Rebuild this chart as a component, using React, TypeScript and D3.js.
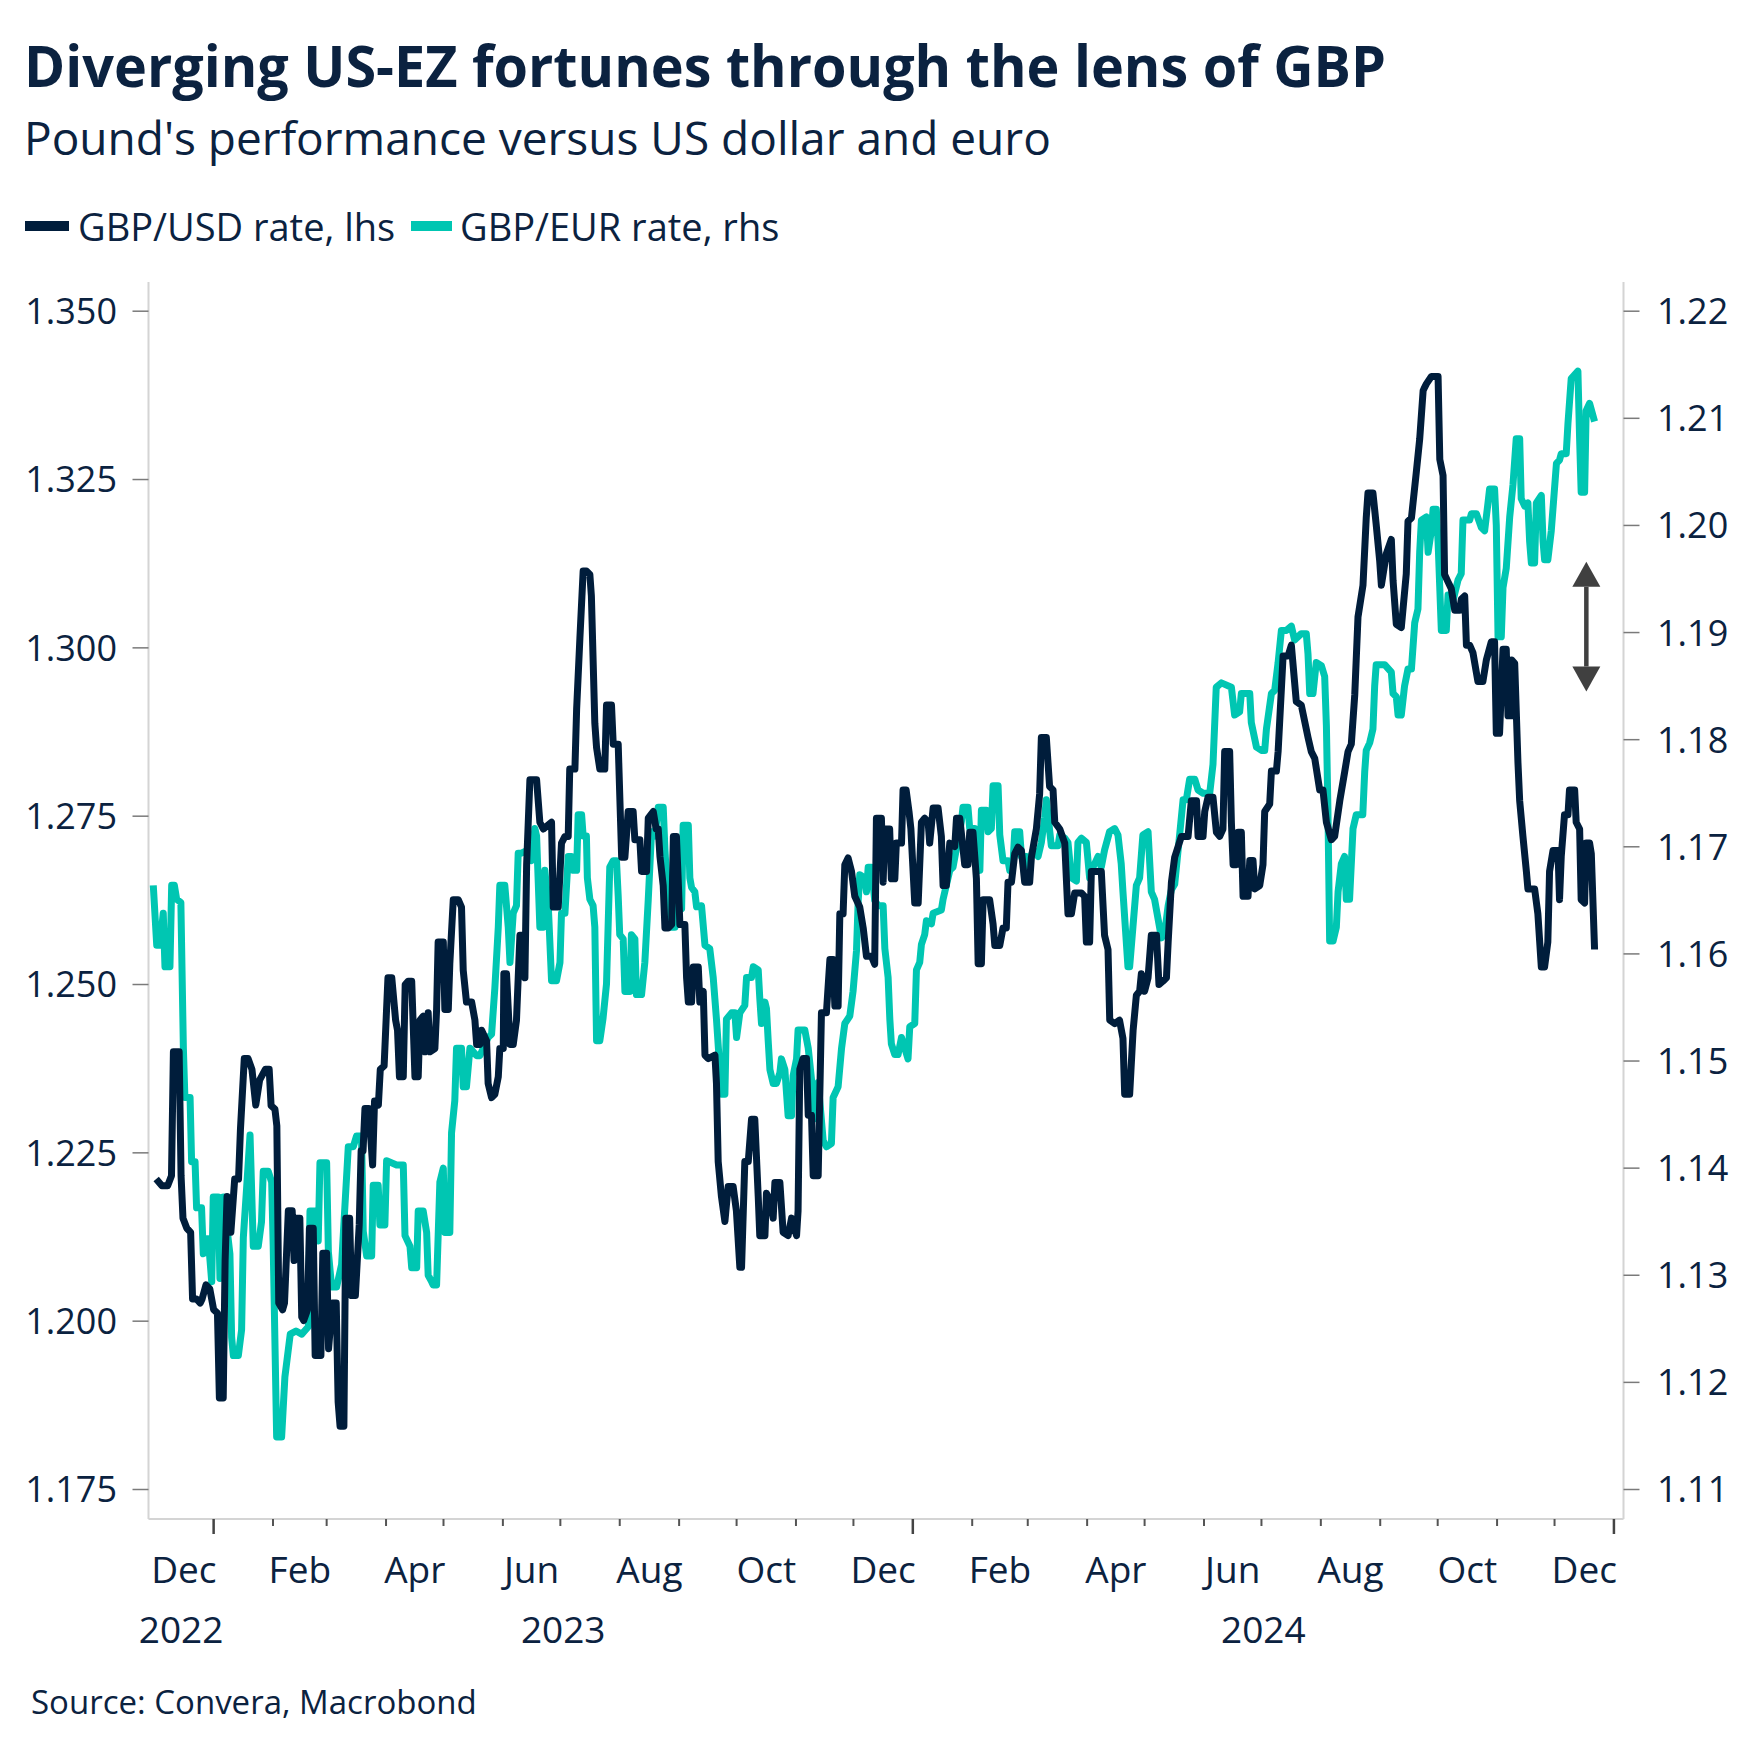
import React from 'react';
import * as d3 from 'd3';

// ---------- DATA (days counted from 2022-11-28) ----------
const baseDateUTC = Date.UTC(2022, 10, 28);

const usdDays = [4,7,10,12,13,16,17,18,20,22,23,25,27,28,30,32,34,36,37,39,40,41,43,45,47,48,50,52,54,56,58,61,63,64,66,67,68,70,71,73,75,76,77,79,80,81,83,84,86,87,90,91,93,94,96,98,99,100,102,103,105,106,108,110,111,112,113,115,117,118,120,121,123,125,127,129,130,131,133,134,
135.6,137.4,139.1,140.8,141.7,143.4,144.3,146.0,146.9,149.5,150.4,151.2,153.9,154.7,156.5,157.3,159.1,161.7,163.4,164.3,166.0,168.7,170.4,171.3,173.0,173.9,176.5,177.3,179.1,180.8,182.6,183.4,185.2,185.5,186.9,188.7,190.4,192.1,193.0,193.9,195.6,196.5,197.4,199.1,202.6,204.3,206.1,210.4,211.3,213.9,215.6,217.4,219.1,219.9,222.6,223.5,225.2,226.9,228.6,230.4,231.2,233.0,233.9,235.6,238.2,239.1,241.7,242.6,245.2,247.0,248.7,250.4,253.0,253.9,256.5,257.4,260.0,260.9,263.5,
265,266.1,267.0,268.7,269.6,271.3,273.1,274.0,275.6,276.5,277.4,280.0,280.9,281.8,283.5,284.4,287.0,287.8,289.6,290.5,292.2,295.7,296.5,297.4,299.1,300.9,302.6,305.2,306.9,308.7,309.6,311.3,313.1,314.8,316.5,318.3,319.1,321.8,322.6,324.4,326.1,327.0,329.6,331.3,333.9,335.7,338.3,339.1,340.0,341.7,343.5,344.4,346.1,347.0,349.6,351.3,353.9,355.7,357.4,358.3,360.0,360.9,362.6,363.5,365.2,367.0,368.7,371.3,373.1,374.8,377.4,379.1,380.0,382.6,383.5,384.4,386.9,387.8,389.6,390.4,393.1,393.9,
395.5,397,398,400.0,401.8,403.5,405.2,407.0,407.8,409.6,412.2,413.9,414.8,416.5,418.3,420.9,421.8,423.5,426.1,427.8,428.7,430.4,432.2,433.1,434.8,435.7,439.1,440.9,441.8,444.4,446.1,447.8,448.7,450.5,452.2,453.9,455.7,457.4,460.0,460.9,463.5,465.2,466.1,468.7,470.4,472.2,473.1,475.7,478.3,480.0,481.8,483.5,487.0,488.7,489.6,491.3,492.2,497.4,499.1,500.9,501.8,504.4,506.9,508.7,509.6,512.2,514.0,515.7,517.4,518.3,520.0,521.8,523.5,525.2,
526.2,527.5,529.6,531.4,532.3,534.0,535.7,537.5,539.2,542.7,544.4,547.1,547.9,550.5,551.4,553.1,555.7,557.5,559.2,560.9,561.8,564.4,565.3,566.2,567.9,568.8,570.5,571.4,574.0,574.9,576.6,577.5,580.1,581.8,582.7,585.3,586.2,588.8,589.7,592.3,594.9,596.6,599.2,601.8,605.3,607.0,608.8,611.4,613.1,614.9,617.5,619.2,621.9,624.4,626.2,627.9,629.7,631.4,634.0,635.7,636.6,639.2,640.9,642.7,643.6,646.2,648.8,649.7,651.4,654.0,
656.6,657.5,659.3,661.8,663.6,665.4,666.2,667.1,669.7,673.2,674.1,675.8,676.6,678.4,680.1,681.9,684.5,685.3,687.1,688.0,689.7,691.4,694.0,696.6,698.4,701.0,702.7,703.6,705.3,707.1,708.8,709.7,711.4,711.6,713.2,714.9,715.8,717.5,719.3,720.1,723.6,725.3,727.1,728.8,730.5,731.4,733.2,735.8,736.6,737.5,739.2,741.0,741.8,744.5,745.3,747.1,747.9,749.7,750.5,752.3,753.2,754.9];

const usdRates = [1.2211,1.2201,1.2201,1.2216,1.2400,1.2400,1.2216,1.2153,1.2138,1.2132,1.2033,1.2033,1.2027,1.2033,1.2054,1.2048,1.2017,1.2012,1.1886,1.1886,1.2090,1.2185,1.2132,1.2211,1.2211,1.2285,1.2390,1.2390,1.2374,1.2321,1.2358,1.2374,1.2374,1.2320,1.2315,1.2290,1.2027,1.2017,1.2027,1.2164,1.2164,1.2090,1.2153,1.2153,1.2006,1.2001,1.2017,1.2138,1.2138,1.1949,1.1949,1.2101,1.2101,1.1959,1.2027,1.2027,1.1880,1.1844,1.1844,1.2153,1.2153,1.2038,1.2038,1.2143,1.2253,1.2253,1.2316,1.2316,1.2232,1.2327,1.2321,1.2374,1.2379,1.2510,1.2510,1.2447,1.2432,1.2363,1.2363,1.2500,
1.2505,1.2505,1.2363,1.2363,1.2447,1.2453,1.2400,1.2458,1.2400,1.2405,1.2463,1.2563,1.2563,1.2463,1.2463,1.2531,1.2626,1.2626,1.2615,1.2521,1.2474,1.2474,1.2447,1.2411,1.2411,1.2432,1.2416,1.2353,1.2332,1.2337,1.2363,1.2405,1.2405,1.2516,1.2516,1.2411,1.2411,1.2447,1.2510,1.2573,1.2573,1.2510,1.2678,1.2804,1.2804,1.2741,1.2731,1.2741,1.2615,1.2615,1.2710,1.2720,1.2720,1.2820,1.2820,1.2909,1.3014,1.3114,1.3114,1.3109,1.3077,1.2888,1.2852,1.2820,1.2820,1.2915,1.2915,1.2857,1.2857,1.2689,1.2689,1.2757,1.2757,1.2715,1.2715,1.2668,1.2668,1.2747,1.2757,
1.2731,1.2731,1.2690,1.2647,1.2584,1.2584,1.2589,1.2720,1.2720,1.2657,1.2589,1.2589,1.2510,1.2474,1.2474,1.2526,1.2526,1.2474,1.2490,1.2395,1.2390,1.2395,1.2353,1.2237,1.2185,1.2148,1.2200,1.2200,1.2164,1.2080,1.2080,1.2237,1.2237,1.2300,1.2300,1.2185,1.2127,1.2127,1.2190,1.2180,1.2153,1.2206,1.2206,1.2132,1.2127,1.2153,1.2127,1.2164,1.2374,1.2390,1.2390,1.2306,1.2306,1.2216,1.2216,1.2458,1.2458,1.2537,1.2537,1.2468,1.2468,1.2605,1.2605,1.2678,1.2688,1.2668,1.2631,1.2615,1.2584,1.2542,1.2542,1.2530,1.2747,1.2747,1.2652,1.2731,1.2731,1.2657,1.2657,1.2710,1.2710,1.2789,
1.2789,1.2757,1.2731,1.2621,1.2621,1.2741,1.2747,1.2741,1.2710,1.2762,1.2762,1.2720,1.2647,1.2647,1.2710,1.2705,1.2747,1.2747,1.2678,1.2678,1.2726,1.2726,1.2657,1.2531,1.2531,1.2626,1.2626,1.2590,1.2558,1.2558,1.2584,1.2584,1.2652,1.2652,1.2694,1.2704,1.2699,1.2652,1.2652,1.2689,1.2731,1.2783,1.2867,1.2867,1.2794,1.2789,1.2741,1.2731,1.2710,1.2605,1.2605,1.2636,1.2636,1.2631,1.2563,1.2563,1.2668,1.2668,1.2573,1.2552,1.2447,1.2442,1.2447,1.2420,1.2337,1.2337,1.2432,1.2484,1.2490,1.2516,1.2490,1.2510,1.2573,1.2573,
1.2573,1.2500,1.2505,1.2510,1.2563,1.2652,1.2689,1.2705,1.2720,1.2720,1.2773,1.2773,1.2720,1.2720,1.2757,1.2778,1.2778,1.2726,1.2720,1.2731,1.2846,1.2846,1.2741,1.2678,1.2678,1.2726,1.2726,1.2631,1.2631,1.2684,1.2684,1.2642,1.2647,1.2678,1.2757,1.2768,1.2817,1.2817,1.2846,1.2988,1.2988,1.3004,1.2920,1.2915,1.2867,1.2846,1.2836,1.2789,1.2789,1.2741,1.2715,1.2720,1.2773,1.2815,1.2846,1.2857,1.2930,1.3046,1.3093,1.3193,1.3230,1.3230,1.3183,1.3130,1.3093,1.3140,1.3161,1.3100,1.3035,1.3030,
1.3110,1.3188,1.3193,1.3260,1.3310,1.3382,1.3387,1.3392,1.3403,1.3403,1.3280,1.3256,1.3109,1.3098,1.3088,1.3056,1.3056,1.3072,1.3077,1.3004,1.3004,1.2993,1.2950,1.2950,1.2982,1.3009,1.3009,1.2873,1.2873,1.2998,1.2998,1.2899,1.2899,1.2982,1.2977,1.2830,1.2773,1.2720,1.2668,1.2642,1.2642,1.2605,1.2526,1.2526,1.2563,1.2668,1.2699,1.2699,1.2626,1.2690,1.2752,1.2752,1.2789,1.2789,1.2741,1.2731,1.2626,1.2621,1.2710,1.2710,1.2694,1.2552];

const eurDays = [2.5,4.3,6.0,7.7,8.6,11.2,12.1,13.5,14.7,16.9,18.2,19.0,21.7,22.5,24.3,25.1,27.7,28.6,30.4,31.2,32.1,33.0,33.8,36.4,37.3,39.1,42.5,43.4,44.3,46.9,48.6,49.5,51.2,53.0,54.7,57.3,59.0,59.9,62.5,64.3,65.1,66.9,69.5,71.2,74,77,80,83.4,84.3,86.9,88.6,89.5,93.0,93.9,95.6,98.2,100.8,104.3,106.9,108.6,111.2,112.1,113.9,116.5,117.3,119.9,120.8,123.4,124.3,129.5,133.0,133.9,
136.5,137.4,140.0,140.8,143.4,145.2,146.0,147.8,148.6,150.4,152.1,153.9,154.7,157.3,158.2,159.9,160.8,163.4,164.3,166.0,167.8,171.3,173.0,177.3,179.1,180.8,182.6,183.4,186.0,187.8,188.7,190.4,192.1,193.0,194.7,198.2,199.9,201.7,202.6,204.3,206.1,206.9,208.7,210.4,213.0,214.8,215.6,217.4,219.1,220.8,221.7,223.5,224.3,226.1,226.9,228.6,229.1,230.4,232.1,233.0,233.9,235.6,237.3,239.1,240.8,242.6,244.3,245.2,246.0,247.8,248.7,251.3,252.1,253.9,254.7,257.4,259.1,260.9,262.6,264.4,
266.1,268.7,269.6,271.3,272.2,274.8,275.7,278.3,279.1,281.8,282.6,283.5,285.2,286.1,288.7,290.5,293.0,294.8,296.5,299.1,300.9,301.7,304.4,306.1,307.0,308.7,311.3,312.2,314.8,315.7,318.3,319.1,320.0,321.8,322.6,323.5,324.4,326.1,327.8,329.6,330.4,332.2,333.9,335.7,336.5,338.3,339.1,342.6,344.4,346.1,347.8,349.6,352.2,353.9,356.5,357.4,360.0,361.8,363.5,366.1,367.8,369.6,370.5,371.3,373.9,374.8,375.7,377.4,379.1,380.9,383.5,384.4,386.1,387.0,387.8,389.6,391.3,393.1,394.8,
396.5,397.4,400.0,400.9,402.6,403.5,405.2,406.1,408.7,409.6,413.9,414.8,418.3,420.0,424.4,425.2,427.8,428.7,431.3,434.0,434.8,437.4,438.3,440.0,440.9,443.5,444.4,446.1,448.7,449.6,451.3,452.2,454.8,455.7,458.3,459.1,461.8,464.4,466.1,467.8,468.7,471.3,474.8,475.7,478.3,480.0,481.8,484.4,485.2,487.0,489.6,491.3,493.1,495.7,497.4,499.1,501.7,504.4,506.1,507.8,508.7,511.3,512.2,513.9,515.7,517.4,519.1,521.8,523.5,525.2,
528.8,530.5,532.3,534.0,535.7,537.5,540.1,541.8,543.5,546.2,547.9,550.5,554.0,555.7,557.4,560.1,565.3,567.0,569.6,570.5,572.3,574.9,575.7,578.4,581.0,582.7,583.6,586.2,587.9,589.7,591.4,594.0,596.6,598.3,601.8,604.4,605.3,606.2,607.9,609.6,612.3,614.0,614.9,615.7,616.6,618.4,620.1,621.0,622.7,624.4,625.3,627.0,628.8,630.5,633.9,634.9,635.7,637.5,639.2,640.1,640.9,645.3,648.8,649.7,651.4,652.3,654.0,655.7,
657.5,659.3,661.0,662.7,663.6,664.5,667.1,668.0,669.7,670.6,672.3,673.2,674.9,677.5,678.4,680.9,683.6,685.3,686.2,689.7,690.6,693.2,695.8,697.5,699.2,700.1,702.7,703.6,704.5,706.2,707.1,708.8,710.6,712.3,714.0,715.8,716.6,718.4,720.1,721.0,721.9,723.6,724.5,727.1,728.0,728.8,730.5,732.3,735.0,736.6,737.5,740.1,741.0,742.7,746.2,747.1,747.9,749.7,750.5,752.3,754.9];

const eurRates = [1.1664,1.1608,1.1608,1.1638,1.1588,1.1588,1.1664,1.1664,1.1651,1.1648,1.1512,1.1466,1.1466,1.1406,1.1406,1.1363,1.1363,1.1320,1.1334,1.1334,1.1314,1.1294,1.1373,1.1373,1.1297,1.1373,1.1320,1.1242,1.1225,1.1225,1.1249,1.1335,1.1381,1.1431,1.1327,1.1327,1.1350,1.1397,1.1397,1.1387,1.1327,1.1149,1.1149,1.1205,1.1245,1.1248,1.1245,1.1252,1.1360,1.1360,1.1332,1.1405,1.1405,1.1322,1.1289,1.1289,1.1310,1.1420,1.1420,1.1430,1.1430,1.1341,1.1318,1.1318,1.1384,1.1384,1.1347,1.1347,1.1407,1.1403,1.1403,1.1337,
1.1327,1.1307,1.1307,1.1360,1.1360,1.1340,1.1300,1.1294,1.1291,1.1291,1.1387,1.1400,1.1340,1.1340,1.1433,1.1463,1.1512,1.1512,1.1476,1.1476,1.1512,1.1505,1.1505,1.1522,1.1525,1.1568,1.1625,1.1664,1.1664,1.1625,1.1592,1.1638,1.1645,1.1694,1.1694,1.1697,1.1687,1.1717,1.1710,1.1625,1.1625,1.1678,1.1645,1.1575,1.1575,1.1592,1.1638,1.1638,1.1691,1.1691,1.1678,1.1678,1.1730,1.1730,1.1710,1.1710,1.1671,1.1651,1.1645,1.1625,1.1519,1.1519,1.1540,1.1572,1.1681,1.1687,1.1687,1.1654,1.1618,1.1614,1.1565,1.1565,1.1618,1.1614,1.1562,1.1562,1.1592,1.1651,1.1714,1.1710,
1.1737,1.1737,1.1697,1.1645,1.1625,1.1625,1.1645,1.1642,1.1720,1.1720,1.1671,1.1662,1.1658,1.1644,1.1645,1.1608,1.1605,1.1578,1.1539,1.1469,1.1469,1.1539,1.1545,1.1545,1.1522,1.1545,1.1552,1.1578,1.1578,1.1588,1.1585,1.1559,1.1535,1.1555,1.1549,1.1519,1.1492,1.1479,1.1479,1.1489,1.1502,1.1492,1.1449,1.1449,1.1486,1.1502,1.1529,1.1529,1.1512,1.1483,1.1446,1.1480,1.1426,1.1420,1.1423,1.1466,1.1476,1.1512,1.1535,1.1542,1.1565,1.1603,1.1650,1.1674,1.1671,1.1658,1.1681,1.1681,1.1650,1.1645,1.1645,1.1605,1.1578,1.1539,1.1516,1.1506,1.1506,1.1522,1.1512,
1.1502,1.1532,1.1535,1.1585,1.1592,1.1609,1.1618,1.1631,1.1628,1.1638,1.1641,1.1651,1.1678,1.1681,1.1724,1.1737,1.1737,1.1717,1.1717,1.1678,1.1734,1.1734,1.1714,1.1717,1.1757,1.1757,1.1711,1.1687,1.1687,1.1678,1.1684,1.1714,1.1714,1.1691,1.1691,1.1681,1.1697,1.1691,1.1704,1.1727,1.1744,1.1701,1.1701,1.1711,1.1708,1.1704,1.1671,1.1668,1.1704,1.1708,1.1704,1.1671,1.1681,1.1691,1.1681,1.1697,1.1714,1.1717,1.1711,1.1684,1.1658,1.1588,1.1588,1.1625,1.1664,1.1671,1.1711,1.1714,1.1658,1.1651,
1.1615,1.1620,1.1645,1.1660,1.1665,1.1697,1.1744,1.1744,1.1763,1.1763,1.1753,1.1750,1.1750,1.1777,1.1849,1.1853,1.1849,1.1823,1.1826,1.1843,1.1843,1.1843,1.1816,1.1793,1.1790,1.1790,1.1810,1.1843,1.1846,1.1872,1.1902,1.1902,1.1906,1.1893,1.1899,1.1899,1.1880,1.1843,1.1843,1.1872,1.1869,1.1859,1.1813,1.1735,1.1612,1.1612,1.1625,1.1658,1.1684,1.1691,1.1651,1.1651,1.1717,1.1730,1.1730,1.1770,1.1790,1.1797,1.1810,1.1850,1.1870,1.1870,1.1863,1.1843,1.1840,1.1823,1.1823,1.1850,
1.1866,1.1866,1.1909,1.1922,1.1975,1.2005,1.2008,1.1975,1.1995,1.2015,1.2015,1.1985,1.1902,1.1902,1.1935,1.1929,1.1949,1.1955,1.2005,1.2005,1.2011,1.2011,1.1998,1.1995,1.2020,1.2034,1.2034,1.2000,1.1896,1.1896,1.1942,1.1960,1.2008,1.2038,1.2081,1.2081,1.2025,1.2018,1.2021,1.1985,1.1965,1.1965,1.2021,1.2028,1.1985,1.1968,1.1968,1.1995,1.2058,1.2061,1.2067,1.2067,1.2095,1.2137,1.2144,1.2080,1.2031,1.2031,1.2107,1.2114,1.2097];

const leftTicks = [1.175, 1.2, 1.225, 1.25, 1.275, 1.3, 1.325, 1.35];
const rightTicks = [1.11, 1.12, 1.13, 1.14, 1.15, 1.16, 1.17, 1.18, 1.19, 1.2, 1.21, 1.22];
const monthNames = ['Jan', 'Feb', 'Mar', 'Apr', 'May', 'Jun', 'Jul', 'Aug', 'Sep', 'Oct', 'Nov', 'Dec'];
const yearLabels = [2022, 2023, 2024];
const seriesNames = ['GBP/USD rate, lhs', 'GBP/EUR rate, rhs'];
const arrowDay = 750.6;
const arrowRange = [1.1966, 1.1845];

const TITLE = 'Diverging US-EZ fortunes through the lens of GBP';
const SUBTITLE = "Pound's performance versus US dollar and euro";
const SOURCE = 'Source: Convera, Macrobond';

// ---------- STYLE ----------
const W = 1752, H = 1756;
const NAVY = '#001d3b';
const TEAL = '#00c6b2';
const TEXT = '#0b2240';
const FONT = "'Open Sans', 'Noto Sans', sans-serif";

const dayToDate = (d: number) => new Date(baseDateUTC + d * 86400000);

export default function App() {
  const plotLeft = 148.5, plotRight = 1623.5, frameTop = 282, frameBottom = 1519;
  const x = d3.scaleUtc().domain([new Date(baseDateUTC), new Date(Date.UTC(2025, 0, 6))]).range([plotLeft, plotRight]);
  const yL = d3.scaleLinear().domain([1.175, 1.35]).range([1489.5, 311.2]);
  const yR = d3.scaleLinear().domain([1.11, 1.22]).range([1489.5, 311.2]);

  const usd = usdDays.map((d, i) => ({ date: dayToDate(d), v: usdRates[i] }));
  const eur = eurDays.map((d, i) => ({ date: dayToDate(d), v: eurRates[i] }));

  const lineL = d3.line<{ date: Date; v: number }>().x(d => x(d.date)).y(d => yL(d.v));
  const lineR = d3.line<{ date: Date; v: number }>().x(d => x(d.date)).y(d => yR(d.v));

  const months = d3.utcMonth.range(new Date(Date.UTC(2023, 0, 1)), new Date(Date.UTC(2025, 0, 2)));
  const labelMonthList = [new Date(Date.UTC(2022, 11, 1)), ...d3.utcMonth.range(new Date(Date.UTC(2023, 1, 1)), new Date(Date.UTC(2024, 11, 2)), 2)];

  const yearCenter = (yr: number) => {
    const s = Math.max(x(new Date(Date.UTC(yr, 0, 1))), plotLeft);
    const e = Math.min(x(new Date(Date.UTC(yr + 1, 0, 1))), plotRight);
    return (s + e) / 2;
  };

  const ax = x(dayToDate(arrowDay));
  const aTop = yR(arrowRange[0]);
  const aBot = yR(arrowRange[1]);
  const headH = 25, headW = 14;

  return (
    <div style={{ position: 'absolute', left: 0, top: 0 }}>
      <svg width={W} height={H} viewBox={`0 0 ${W} ${H}`} style={{ display: 'block', background: '#fff' }} fontFamily={FONT}>
        <rect x={0} y={0} width={W} height={H} fill="#fff" />
        <text x={24} y={87} fontSize={58} fontWeight={700} fill={TEXT} textLength={1362} lengthAdjust="spacingAndGlyphs">{TITLE}</text>
        <text x={24} y={155} fontSize={46} fill={TEXT}>{SUBTITLE}</text>

        {/* legend */}
        <rect x={25} y={221} width={44} height={10} fill={NAVY} />
        <text x={78} y={241} fontSize={38} fill={TEXT}>{seriesNames[0]}</text>
        <rect x={411} y={221} width={41} height={10} fill={TEAL} />
        <text x={460} y={241} fontSize={38} fill={TEXT}>{seriesNames[1]}</text>

        {/* frame */}
        <line x1={plotLeft} x2={plotLeft} y1={frameTop} y2={frameBottom} stroke="#d4d4d4" strokeWidth={2} />
        <line x1={plotRight} x2={plotRight} y1={frameTop} y2={frameBottom} stroke="#d4d4d4" strokeWidth={2} />
        <line x1={plotLeft} x2={plotRight} y1={frameBottom} y2={frameBottom} stroke="#d4d4d4" strokeWidth={2} />

        {/* left axis */}
        {leftTicks.map(t => (
          <g key={'l' + t}>
            <line x1={plotLeft - 16} x2={plotLeft} y1={yL(t)} y2={yL(t)} stroke="#7a7a7a" strokeWidth={1.5} />
            <text x={117} y={yL(t)} dy="0.36em" textAnchor="end" fontSize={36} fill={TEXT}>{t.toFixed(3)}</text>
          </g>
        ))}
        {/* right axis */}
        {rightTicks.map(t => (
          <g key={'r' + t}>
            <line x1={plotRight} x2={plotRight + 16} y1={yR(t)} y2={yR(t)} stroke="#7a7a7a" strokeWidth={1.5} />
            <text x={1657} y={yR(t)} dy="0.36em" textAnchor="start" fontSize={36} fill={TEXT}>{t.toFixed(2)}</text>
          </g>
        ))}

        {/* x axis ticks */}
        {months.map(m => {
          const major = m.getUTCMonth() === 0;
          return (
            <line key={'m' + m.getTime()} x1={x(m)} x2={x(m)} y1={frameBottom} y2={frameBottom + (major ? 15 : 7)}
              stroke={major ? '#444' : '#555'} strokeWidth={major ? 2.5 : 2} />
          );
        })}
        {labelMonthList.map(m => {
          const next = d3.utcMonth.offset(m, 1);
          const cx = (x(m) + x(next)) / 2;
          return (
            <text key={'ml' + m.getTime()} x={cx} y={1583} textAnchor="middle" fontSize={37} fill={TEXT}>
              {monthNames[m.getUTCMonth()]}
            </text>
          );
        })}
        {yearLabels.map(yr => (
          <text key={'y' + yr} x={yearCenter(yr)} y={1643} textAnchor="middle" fontSize={37} fill={TEXT}>{yr}</text>
        ))}

        {/* series */}
        <path d={lineR(eur) || ''} fill="none" stroke={TEAL} strokeWidth={7} strokeLinejoin="round" />
        <path d={lineL(usd) || ''} fill="none" stroke={NAVY} strokeWidth={7} strokeLinejoin="round" />

        {/* arrow */}
        <line x1={ax} x2={ax} y1={aTop + headH} y2={aBot - headH} stroke="#404040" strokeWidth={4.5} />
        <path d={`M${ax},${aTop} L${ax + headW},${aTop + headH} L${ax - headW},${aTop + headH} Z`} fill="#404040" />
        <path d={`M${ax},${aBot} L${ax + headW},${aBot - headH} L${ax - headW},${aBot - headH} Z`} fill="#404040" />

        <text x={31} y={1714} fontSize={33} fill={TEXT}>{SOURCE}</text>
      </svg>
    </div>
  );
}
